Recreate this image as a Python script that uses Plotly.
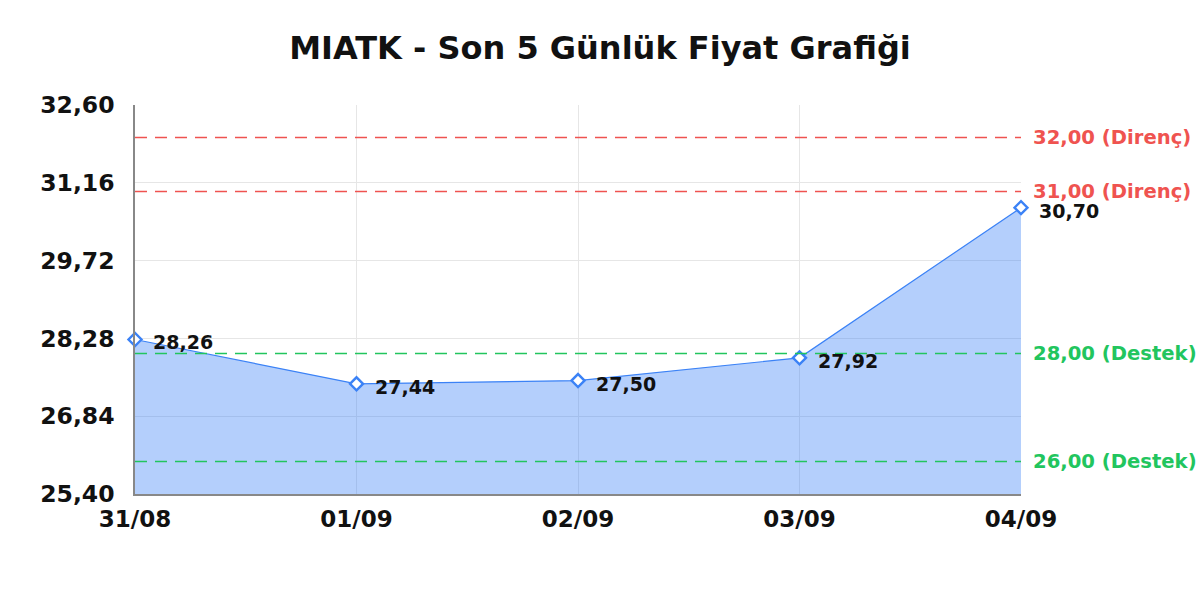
import plotly.graph_objects as go

dates = ["31/08", "01/09", "02/09", "03/09", "04/09"]
prices = [28.26, 27.44, 27.50, 27.92, 30.70]
price_labels = ["28,26", "27,44", "27,50", "27,92", "30,70"]

y_ticks = [25.40, 26.84, 28.28, 29.72, 31.16, 32.60]
y_tick_labels = ["25,40", "26,84", "28,28", "29,72", "31,16", "32,60"]

resistance = [32.00, 31.00]
resistance_labels = ["32,00 (Direnç)", "31,00 (Direnç)"]
support = [28.00, 26.00]
support_labels = ["28,00 (Destek)", "26,00 (Destek)"]

BLUE = "#3b82f6"
RED = "#ef5350"
GREEN = "#22c55e"
FONT = "DejaVu Sans"

fig = go.Figure()

fig.add_trace(go.Scatter(
    x=dates, y=prices,
    mode="lines+markers",
    fill="tozeroy",
    fillcolor="rgba(59,130,246,0.38)",
    line=dict(color=BLUE, width=1.2),
    marker=dict(symbol="diamond", size=10, color="white", line=dict(color=BLUE, width=2.4)),
    cliponaxis=False,
    hoverinfo="skip",
    showlegend=False,
))

# value labels next to each point
for d, p, lab in zip(dates, prices, price_labels):
    fig.add_annotation(x=d, y=p, text=lab, showarrow=False, xanchor="left",
                       xshift=16, yshift=-3,
                       font=dict(family=FONT, size=19, color="#111111", weight="bold"))

# support / resistance levels
for level, label, color in (list(zip(resistance, resistance_labels, [RED] * 2))
                            + list(zip(support, support_labels, [GREEN] * 2))):
    fig.add_shape(type="line", xref="paper", yref="y", x0=0, x1=1, y0=level, y1=level,
                  line=dict(color=color, width=1.5, dash="12px,8px"))
    fig.add_annotation(xref="paper", yref="y", x=1, y=level, text=label,
                       showarrow=False, xanchor="left", xshift=10,
                       font=dict(family=FONT, size=19.6, color=color, weight="bold"))

fig.update_layout(
    width=1200, height=600,
    margin=dict(l=135, r=179, t=105, b=106),
    paper_bgcolor="white", plot_bgcolor="white",
    title=dict(text="MIATK - Son 5 Günlük Fiyat Grafiği", x=0.5, xref="container",
               y=0.92, yanchor="middle",
               font=dict(family=FONT, size=32, color="#111111", weight="bold")),
    font=dict(family=FONT),
)
fig.update_xaxes(type="category", range=[0, 4], showgrid=True, gridcolor="#e6e6e6",
                 showline=True, linecolor="#888888", linewidth=1.5, ticks="",
                 ticklabelstandoff=4,
                 tickfont=dict(family=FONT, size=23, color="#111111", weight="bold"),
                 zeroline=False)
fig.update_yaxes(range=[y_ticks[0], y_ticks[-1]], tickvals=y_ticks, ticktext=y_tick_labels,
                 showgrid=True, gridcolor="#e6e6e6", showline=True, linecolor="#888888",
                 linewidth=1.5, ticks="", ticklabelstandoff=14,
                 tickfont=dict(family=FONT, size=23.5, color="#111111", weight="bold"),
                 zeroline=False)

# drop the default 8px body margin so the 1200x600 figure fills the window
fig.write_html("out.html", config={"displayModeBar": False},
               post_script="document.body.style.margin='0';")
